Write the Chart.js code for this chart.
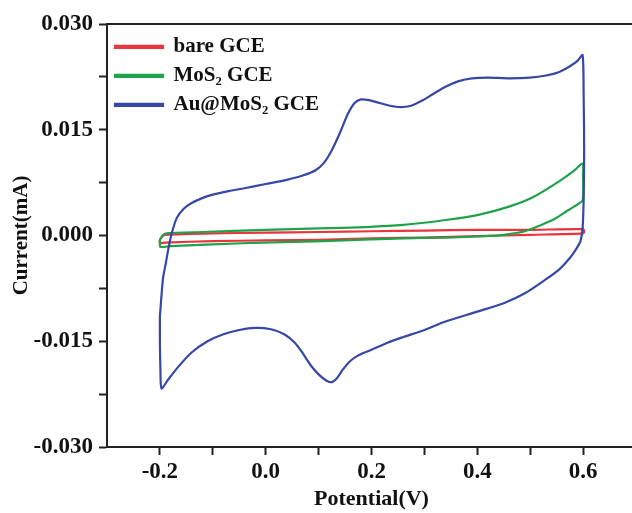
<!DOCTYPE html>
<html>
<head>
<meta charset="utf-8">
<script src="https://cdn.jsdelivr.net/npm/chart.js@4.4.1/dist/chart.umd.min.js"></script>
<style>
    html, body { margin: 0; padding: 0; background: #fff; overflow: hidden; }
    #wrap { width: 640px; height: 513px; }
</style>
</head>
<body>
<div id="wrap"><canvas id="cv"></canvas></div>
<script>
// Potential (V) / current (mA)
const bareLabel = 'bare GCE';
const barePotential = [-0.200, -0.195, -0.190, -0.100, 0.000, 0.100, 0.200, 0.300, 0.400, 0.500, 0.600, 0.602, 0.600, 0.500, 0.400, 0.300, 0.200, 0.100, 0.000, -0.100, -0.190, -0.200, -0.200];
const bareCurrent = [-0.0006, -0.0001, 0.0001, 0.0003, 0.0004, 0.0005, 0.0006, 0.0007, 0.0008, 0.0008, 0.0009, 0.0006, 0.0003, 0.0001, -0.0001, -0.0003, -0.0004, -0.0006, -0.0007, -0.0008, -0.0010, -0.0011, -0.0006];

const mosLabel = 'MoS₂ GCE';
const mosPotential = [-0.200, -0.195, -0.188, -0.120, 0.000, 0.100, 0.190, 0.260, 0.340, 0.400, 0.460, 0.507, 0.553, 0.583, 0.599, 0.600, 0.599, 0.585, 0.568, 0.545, 0.521, 0.490, 0.450, 0.414, 0.340, 0.260, 0.110, -0.045, -0.180, -0.199, -0.200];
const mosCurrent = [-0.0006, 0.0000, 0.0003, 0.0005, 0.0008, 0.0010, 0.0012, 0.0015, 0.0022, 0.0029, 0.0041, 0.0055, 0.0076, 0.0092, 0.0102, 0.0083, 0.0050, 0.0042, 0.0034, 0.0023, 0.0015, 0.0006, 0.0001, -0.0001, -0.0003, -0.0004, -0.0008, -0.0011, -0.0015, -0.0016, -0.0006];

const auLabel = 'Au@MoS₂ GCE';
const auPotential = [
    -0.200, -0.197, -0.194, -0.189, -0.183, -0.177, -0.168, -0.155, -0.140, -0.120,
    -0.100, -0.070, -0.040, 0.000, 0.040, 0.070, 0.095, 0.110, 0.125, 0.140,
    0.155, 0.168, 0.180, 0.195, 0.215, 0.235, 0.255, 0.275, 0.295, 0.315,
    0.340, 0.365, 0.390, 0.420, 0.460, 0.500, 0.530, 0.555, 0.575, 0.590,
    0.599, 0.601, 0.602, 0.601, 0.599, 0.595, 0.588, 0.575, 0.555, 0.530,
    0.490, 0.450, 0.400, 0.336, 0.300, 0.260, 0.230, 0.200, 0.175, 0.160,
    0.145, 0.135, 0.125, 0.115, 0.100, 0.085, 0.070, 0.055, 0.035, 0.010,
    -0.020, -0.050, -0.080, -0.110, -0.140, -0.165, -0.185, -0.197, -0.199, -0.200,
    -0.200,
];
const auCurrent = [
    -0.0115, -0.0085, -0.0060, -0.0040, -0.0015, 0.0005, 0.0025, 0.0038, 0.0046, 0.0053,
    0.0058, 0.0063, 0.0067, 0.0073, 0.0079, 0.0085, 0.0093, 0.0103, 0.0121, 0.0145,
    0.0172, 0.0188, 0.0193, 0.0192, 0.0188, 0.0184, 0.0182, 0.0184, 0.0191, 0.0200,
    0.0211, 0.0219, 0.0223, 0.0224, 0.0223, 0.0224, 0.0227, 0.0232, 0.0240, 0.0248,
    0.0256, 0.0200, 0.0120, 0.0050, 0.0010, -0.0008, -0.0018, -0.0032, -0.0048, -0.0062,
    -0.0082, -0.0096, -0.0108, -0.0123, -0.0134, -0.0144, -0.0152, -0.0162, -0.0170, -0.0178,
    -0.0191, -0.0202, -0.0208, -0.0206, -0.0197, -0.0184, -0.0167, -0.0152, -0.0140, -0.0133,
    -0.0131, -0.0134, -0.0140, -0.0150, -0.0166, -0.0186, -0.0205, -0.0217, -0.0190, -0.0150,
    -0.0115,
];

const xTicks = [-0.2, 0.0, 0.2, 0.4, 0.6];
const yTicks = [-0.030, -0.015, 0.000, 0.015, 0.030];

const toPoints = (xs, ys) => xs.map((x, i) => ({ x, y: ys[i] }));
const near = (v, list) => list.some((t) => Math.abs(t - v) < 1e-6);

const serif = "'Liberation Serif', 'Times New Roman', serif";

// top frame line (the right one is outside the photo)
const frameTop = {
    id: 'frameTop',
    afterDraw(chart) {
        const { ctx, chartArea } = chart;
        ctx.save();
        ctx.strokeStyle = '#222';
        ctx.lineWidth = 2;
        ctx.beginPath();
        ctx.moveTo(chartArea.left - 1, chartArea.top);
        ctx.lineTo(chartArea.right + 2, chartArea.top);
        ctx.stroke();
        ctx.restore();
    },
};

const line = (label, xs, ys, color) => ({
    label,
    data: toPoints(xs, ys),
    borderColor: color,
    backgroundColor: color,
    borderWidth: 2.2,
    pointRadius: 0,
    tension: 0.25,
    fill: false,
});

new Chart(document.getElementById('cv'), {
    type: 'line',
    data: {
        datasets: [
            line(auLabel, auPotential, auCurrent, '#3747a6'),
            line(mosLabel, mosPotential, mosCurrent, '#1ea24a'),
            line(bareLabel, barePotential, bareCurrent, '#e8343c'),
        ],
    },
    plugins: [frameTop],
    options: {
        responsive: true,
        maintainAspectRatio: false,
        animation: false,
        layout: { padding: { top: 24, right: 4, bottom: 0, left: 0 } },
        plugins: {
            tooltip: { enabled: false },
            legend: {
                position: 'chartArea',
                align: 'start',
                reverse: true,
                title: {
                    display: true,
                    text: '',
                    padding: { top: 26, bottom: 0 },
                    font: { size: 2 },
                },
                labels: {
                    boxWidth: 48,
                    boxHeight: 2,
                    padding: 8,
                    color: '#111',
                    font: { family: serif, size: 21, weight: 'bold' },
                },
            },
        },
        scales: {
            x: {
                type: 'linear',
                min: -0.3,
                max: 0.7,
                afterFit: (scale) => { scale.height = 66; },
                afterBuildTicks: (scale) => {
                    scale.ticks = [-0.2, -0.1, 0, 0.1, 0.2, 0.3, 0.4, 0.5, 0.6].map((value) => ({ value }));
                },
                grid: { drawOnChartArea: false, tickLength: 8, tickWidth: 2, tickColor: '#222' },
                border: { color: '#222', width: 2 },
                ticks: {
                    color: '#111',
                    padding: 3,
                    maxRotation: 0,
                    autoSkip: false,
                    font: { family: serif, size: 23, weight: 'bold' },
                    callback: (value) => (near(value, xTicks) ? value.toFixed(1) : ''),
                },
                title: {
                    display: true,
                    text: 'Potential(V)',
                    color: '#111',
                    padding: { top: 1, bottom: 0 },
                    font: { family: serif, size: 22, weight: 'bold' },
                },
            },
            y: {
                min: -0.03,
                max: 0.03,
                afterFit: (scale) => { scale.width = 107; },
                afterBuildTicks: (scale) => {
                    scale.ticks = [-0.03, -0.0225, -0.015, -0.0075, 0, 0.0075, 0.015, 0.0225, 0.03].map((value) => ({ value }));
                },
                grid: { drawOnChartArea: false, tickLength: 8, tickWidth: 2, tickColor: '#222' },
                border: { color: '#222', width: 2 },
                ticks: {
                    color: '#111',
                    padding: 6,
                    autoSkip: false,
                    font: { family: serif, size: 23, weight: 'bold' },
                    callback: (value) => (near(value, yTicks) ? (Math.round(value * 1000) / 1000).toFixed(3) : ''),
                },
                title: {
                    display: true,
                    text: 'Current(mA)',
                    color: '#111',
                    padding: { top: 9, bottom: 0 },
                    font: { family: serif, size: 21, weight: 'bold' },
                },
            },
        },
    },
});
</script>
</body>
</html>
